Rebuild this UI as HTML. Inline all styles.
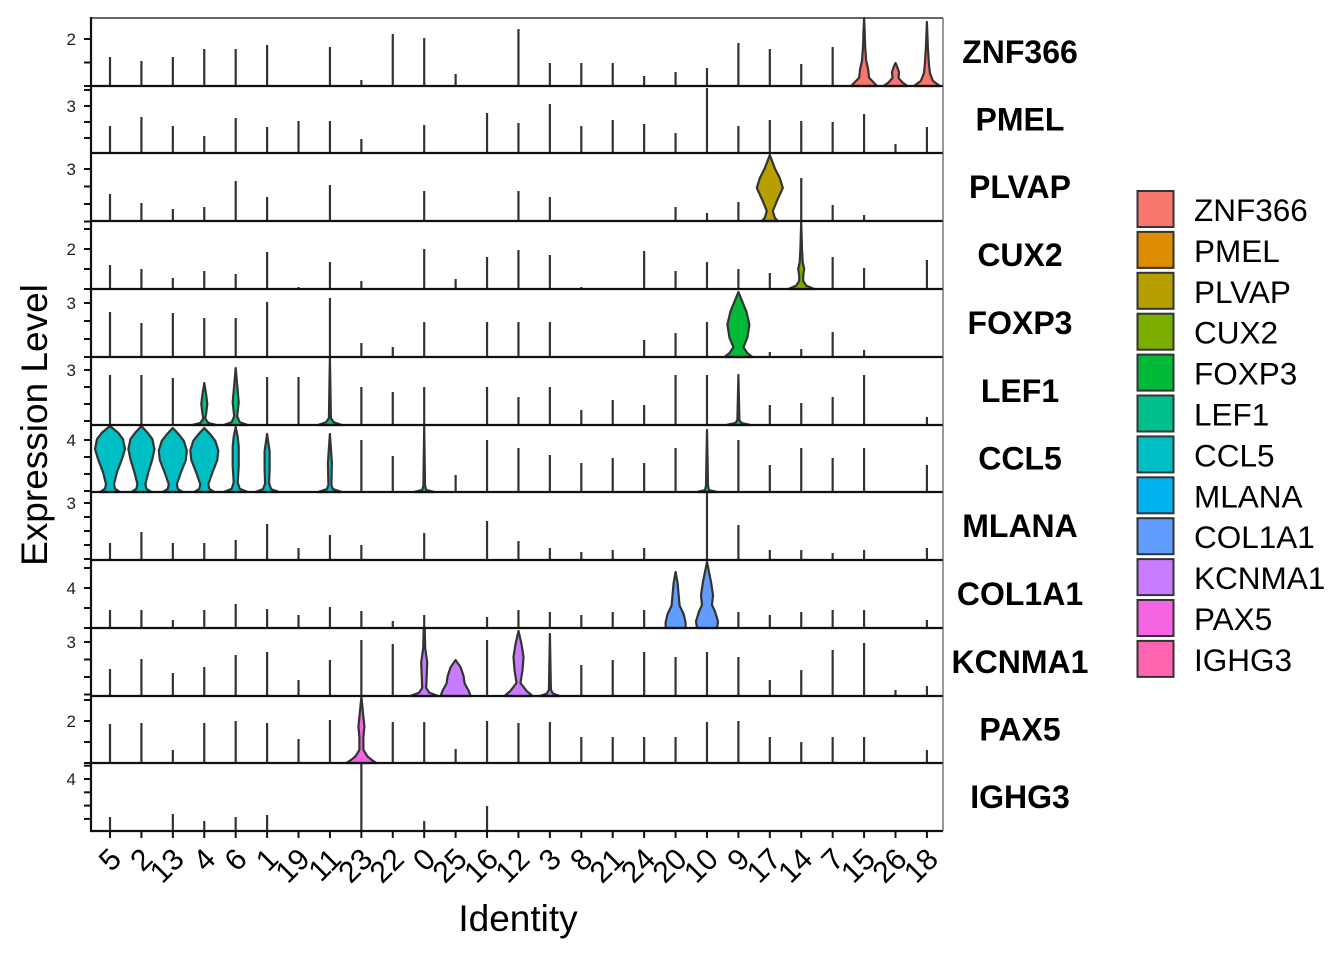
<!DOCTYPE html>
<html><head><meta charset="utf-8"><style>
html,body{margin:0;padding:0;background:#fff;}
svg{display:block;font-family:"Liberation Sans",sans-serif;}
</style></head><body>
<svg id="s" width="1344" height="960" viewBox="0 0 1344 960" xmlns="http://www.w3.org/2000/svg"></svg>
<script>
const S=document.getElementById('s');let h='';
const cats=['5','2','13','4','6','1','19','11','23','22','0','25','16','12','3','8','21','24','20','10','9','17','14','7','15','26','18'];
const X=i=>110+i*31.42;
const genes=['ZNF366','PMEL','PLVAP','CUX2','FOXP3','LEF1','CCL5','MLANA','COL1A1','KCNMA1','PAX5','IGHG3'];
const cols=['#F8766D','#DE8C00','#B79F00','#7CAE00','#00BA38','#00C08B','#00BFC4','#00B4F0','#619CFF','#C77CFF','#F564E3','#FF64B0'];
const bot=[86,153,221,289,357,425,492,560,628,696,763,831];
const topb=[18,86,153,221,289,357,425,492,560,628,696,763];
const L=[
{5:57,2:61,13:57,4:49,6:49,1:45,11:47,23:80,22:34,0:38,25:74,12:29,3:63,8:63,21:63,24:76,20:72,10:68,9:43,17:49,14:64,7:47},
{5:126,2:117,13:126,4:136,6:118,1:127,19:121,11:121,23:139,0:125,16:113,12:123,3:104,8:126,21:120,24:124,20:133,10:88,9:126,17:120,14:121,7:122,15:114,26:144,18:127},
{5:194,2:203,13:209,4:207,6:181,1:197,11:185,0:191,12:191,3:197,20:207,10:213,9:202,14:178,7:205,15:215},
{5:265,2:269,13:278,4:271,6:274,1:252,19:287,11:262,23:281,0:249,25:279,16:257,12:250,3:255,8:287,24:251,20:271,10:262,9:269,17:273,7:257,15:268,18:260},
{5:312,2:323,13:313,4:318,6:318,1:302,11:298,23:343,22:347,0:322,16:322,12:322,3:322,24:340,20:333,10:322,17:352,14:349,7:332,15:350},
{5:375,2:375,13:378,1:377,19:377,23:387,22:392,0:387,16:387,12:397,3:387,8:410,21:400,24:405,20:375,10:375,17:405,14:403,7:397,15:375,18:417},
{23:440,22:456,25:475,16:440,12:448,3:455,8:463,21:458,24:463,20:448,9:440,17:465,14:448,7:458,15:448,18:465},
{5:543,2:532,13:543,4:543,6:540,1:524,19:548,11:535,23:545,0:533,16:521,12:541,3:548,8:552,21:550,24:548,10:493,9:525,17:550,14:550,7:553,15:550,18:548},
{5:610,2:610,13:620,4:610,6:604,1:609,19:615,11:607,23:611,22:621,0:615,16:617,12:610,3:612,8:615,21:612,24:610,9:612,17:615,14:612,7:610,15:610,18:620},
{5:669,2:659,13:673,4:667,6:655,1:652,19:680,11:660,23:640,22:644,16:640,8:665,21:660,24:652,20:657,10:652,9:657,17:680,14:670,7:650,15:643,26:690,18:686},
{5:724,2:723,13:750,4:723,6:721,1:723,19:739,11:720,22:722,0:722,25:749,16:721,12:723,3:722,8:737,21:737,24:737,20:737,10:722,9:721,17:737,14:742,7:737,15:737,18:750},
{5:817,13:814,4:821,6:817,1:815,23:764,0:821,16:806}
];
const V=[
[0,'15',18,[[0,13],[0.06,9],[0.12,5],[0.25,4],[0.38,2],[0.6,1],[0.8,0.6],[1,0]]],
[0,'26',63,[[0,12],[0.15,7],[0.35,3],[0.6,3.5],[0.8,2],[1,0]]],
[0,'18',22,[[0,13],[0.08,6],[0.2,3],[0.35,2],[0.6,1],[1,0]]],
[2,'17',155,[[0,8],[0.05,5],[0.15,3],[0.3,7],[0.5,13],[0.65,10],[0.8,5],[0.92,2],[1,0]]],
[3,'14',222,[[0,13],[0.05,5],[0.12,2],[0.2,2],[0.3,3],[0.4,1.5],[0.6,0.8],[1,0]]],
[4,'9',292,[[0,14],[0.06,9],[0.15,5],[0.3,9],[0.5,11],[0.7,8],[0.85,4],[1,0]]],
[5,'4',383,[[0,12],[0.05,4],[0.15,1],[0.3,2],[0.5,3],[0.7,2],[1,0]]],
[5,'6',368,[[0,12],[0.05,4],[0.15,1.5],[0.4,3],[0.6,2],[1,0]]],
[5,'11',357,[[0,12],[0.04,4],[0.1,1],[1,0]]],
[5,'9',375,[[0,12],[0.04,3],[0.1,1],[1,0]]],
[6,'5',426,[[0,10],[0.05,5],[0.12,4],[0.3,7],[0.5,12],[0.65,15],[0.8,13],[0.9,8],[1,0]]],
[6,'2',426,[[0,10],[0.05,5],[0.12,4],[0.3,7],[0.5,11],[0.65,13],[0.8,11],[0.9,6],[1,0]]],
[6,'13',428,[[0,10],[0.05,5],[0.12,4],[0.3,8],[0.5,13],[0.65,14],[0.8,11],[0.9,6],[1,0]]],
[6,'4',428,[[0,10],[0.05,5],[0.12,4],[0.3,8],[0.5,13],[0.65,14],[0.8,11],[0.9,6],[1,0]]],
[6,'6',427,[[0,12],[0.05,4],[0.15,2],[0.4,3],[0.7,3],[0.85,2],[1,0]]],
[6,'1',434,[[0,12],[0.05,4],[0.15,2],[0.4,2.5],[0.7,2.5],[1,0]]],
[6,'11',434,[[0,12],[0.05,3],[0.12,1.5],[0.5,2],[1,0]]],
[6,'0',426,[[0,10],[0.03,2],[0.1,0.8],[1,0]]],
[6,'10',430,[[0,10],[0.03,2],[0.1,1],[1,0]]],
[8,'20',572,[[0,10],[0.1,10],[0.25,8],[0.4,4],[0.6,3],[0.8,2],[1,0]]],
[8,'10',562,[[0,10],[0.1,11],[0.25,8],[0.35,5],[0.5,6],[0.7,4],[0.85,2],[1,0]]],
[9,'0',628,[[0,14],[0.05,5],[0.12,2],[0.3,2.5],[0.5,3],[0.7,1],[1,0.5]]],
[9,'25',660,[[0,15],[0.15,13],[0.35,9],[0.55,8],[0.8,5],[1,0]]],
[9,'12',631,[[0,14],[0.08,8],[0.2,2],[0.4,4],[0.6,5],[0.8,3],[1,0]]],
[9,'3',634,[[0,10],[0.04,3],[0.1,1],[1,0]]],
[10,'23',697,[[0,15],[0.05,10],[0.1,6],[0.2,2],[0.4,2],[0.55,3],[0.7,2],[0.85,1],[1,0]]]
];
const vset=new Set(V.map(v=>v[0]+'_'+v[1]));
for(let r=0;r<12;r++){
  for(const c in L[r]){
    if(vset.has(r+'_'+c))continue;
    const i=cats.indexOf(c),t=L[r][c];if(!t)continue;
    h+=`<line x1="${X(i)}" y1="${bot[r]}" x2="${X(i)}" y2="${t}" stroke="#333" stroke-width="2.2"/>`;
  }
}
for(const [r,c,t,p] of V){
  const x=X(cats.indexOf(c)),b=bot[r],H=b-t;
  let R=[],Lp=[];
  for(const [f,w] of p){R.push(`${(x+w).toFixed(1)},${(b-f*H).toFixed(1)}`);Lp.unshift(`${(x-w).toFixed(1)},${(b-f*H).toFixed(1)}`);}
  h+=`<polygon points="${R.concat(Lp).join(' ')}" fill="${cols[r]}" stroke="#333" stroke-width="2.2" stroke-linejoin="round"/>`;
}
for(let r=0;r<12;r++){
  h+=`<line x1="90" y1="${bot[r]}" x2="943" y2="${bot[r]}" stroke="#111" stroke-width="2.2"/>`;
}
h+=`<line x1="91" y1="18" x2="943" y2="18" stroke="#333" stroke-width="1.5"/><line x1="943" y1="18" x2="943" y2="831" stroke="#555" stroke-width="1.2"/>`;
h+=`<line x1="91" y1="17" x2="91" y2="832" stroke="#111" stroke-width="2.2"/>`;
const yl=[['2',39,23.5],['3',106,16],['3',169,17.5],['2',249,20],['3',303,18],['3',370,17],['4',440,17],['3',503,14],['4',588,20],['3',642,17.5],['2',721,21],['4',779,13.3]];
for(let r=0;r<12;r++){
  const [lab,y,st]=yl[r];
  h+=`<text x="76" y="${y+6}" font-size="17" text-anchor="end" fill="#222">${lab}</text>`;
  for(let k=-6;k<=6;k++){const yy=y+k*st;if(yy<topb[r]+1||yy>bot[r]+0.5)continue;
    h+=`<line x1="84" y1="${yy}" x2="91" y2="${yy}" stroke="#111" stroke-width="2"/>`;}
}
cats.forEach((c,i)=>{const x=X(i);
  h+=`<line x1="${x}" y1="831" x2="${x}" y2="838" stroke="#111" stroke-width="2"/>`;
  h+=`<text transform="translate(${x+13},861) rotate(-45)" font-size="30" text-anchor="end" fill="#000">${c}</text>`;
});
genes.forEach((g,r)=>{h+=`<text x="1020" y="${(topb[r]+bot[r])/2+11}" font-size="32" font-weight="bold" text-anchor="middle">${g}</text>`;});
h+=`<text x="518" y="931" font-size="37" text-anchor="middle">Identity</text>`;
h+=`<text transform="translate(47,425) rotate(-90)" font-size="37" text-anchor="middle">Expression Level</text>`;
genes.forEach((g,k)=>{const y=191+k*40.9;
  h+=`<rect x="1137.5" y="${y}" width="36" height="36" fill="${cols[k]}" stroke="#333" stroke-width="2"/>`;
  h+=`<text x="1194" y="${y+30}" font-size="31.5">${g}</text>`;});
S.innerHTML=h;
</script>
</body></html>
